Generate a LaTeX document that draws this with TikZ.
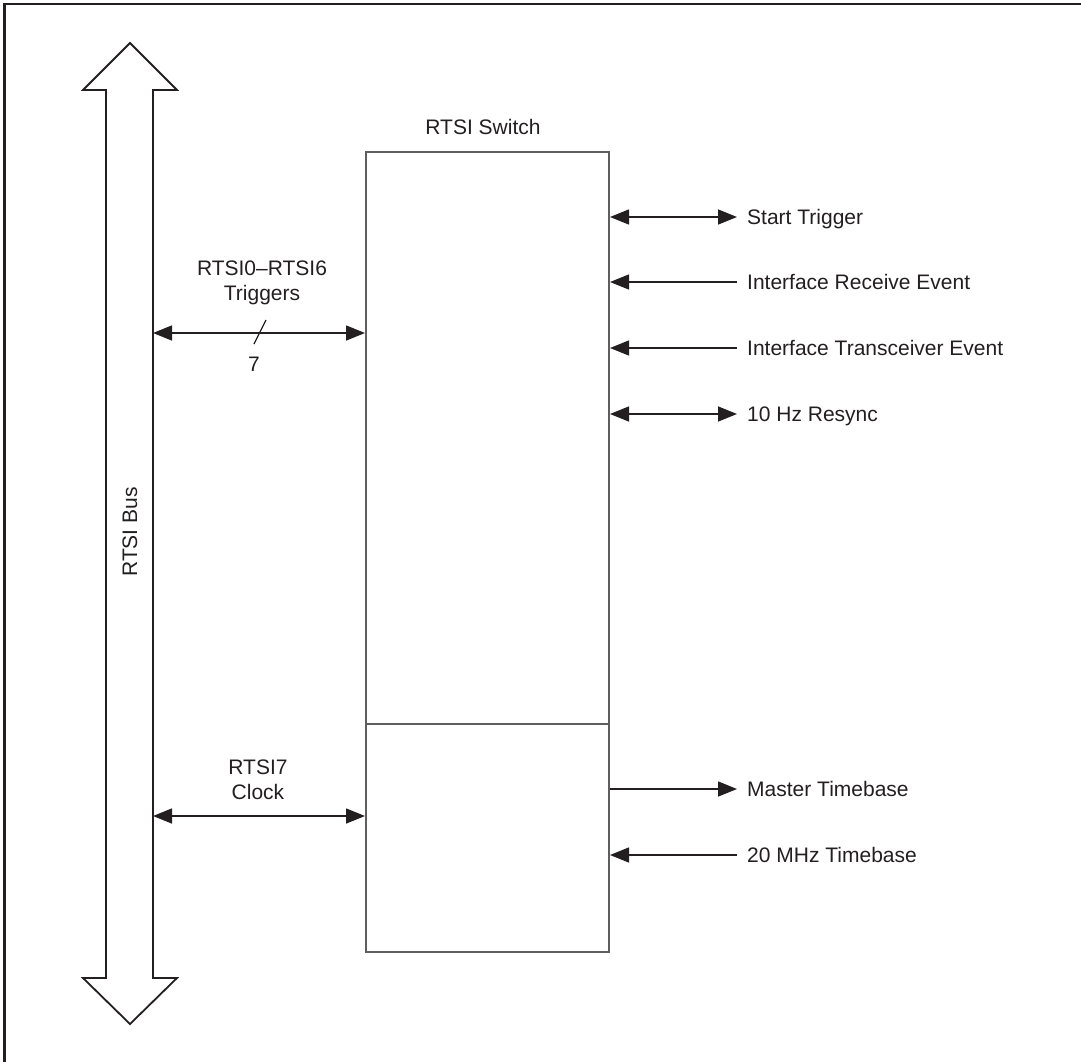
\documentclass[tikz,border=0pt]{standalone}
\usepackage{fontspec}
\setmainfont{Liberation Sans}
\usetikzlibrary{arrows.meta}
\definecolor{ink}{HTML}{231F20}
\definecolor{boxgray}{HTML}{5E5E5E}
\begin{document}
\begin{tikzpicture}[x=1pt,y=-1pt,
  every node/.style={font=\fontsize{21}{25}\selectfont, text=ink},
  sig/.style={draw=ink, line width=1.5pt},
  tip/.style={-{Triangle[length=19pt,width=15pt]}},
  bitip/.style={{Triangle[length=19pt,width=15pt]}-{Triangle[length=19pt,width=15pt]}},
  intip/.style={{Triangle[length=19pt,width=15pt]}-},
  rlabel/.style={anchor=west, inner xsep=10pt, inner ysep=0pt, text height=15pt, text depth=0pt},
  switchbox/.style={draw=boxgray, line width=2pt, minimum width=243pt, minimum height=800pt, inner sep=0pt},
  busshape/.style={draw=ink, line width=1.8pt, line join=miter, fill=white}
]
\useasboundingbox (0,0) rectangle (1081,1062);
\draw[ink, line width=2.5pt] (4.5,1062) -- (4.5,4) -- (1081,4);

% RTSI bus arrow
\draw[busshape] (130,43) -- (177,90) -- (153,90) -- (153,978) -- (177,978) -- (130,1024)
  -- (83,978) -- (106,978) -- (106,90) -- (83,90) -- cycle;
\node[rotate=90] (bus) at (130,532) {RTSI Bus};
\coordinate (busR1) at (153,333);
\coordinate (busR2) at (153,816);

% switch box
\node[switchbox] (sw) at (487.5,552) {};
\coordinate (divL) at (366,724);
\coordinate (divR) at (609,724);
\draw[boxgray, line width=2pt] (divL) -- (divR);
\node (swlabel) at (483,127) {RTSI Switch};

% left connectors
\node[align=center] (trig) at (262,282.5) {RTSI0–RTSI6\\Triggers};
\draw[sig, bitip] (busR1) -- (sw.west |- busR1);
\coordinate (slA) at (266,320);
\coordinate (slB) at (254,344);
\draw[sig, line width=1.2pt] (slA) -- (slB);
\node (seven) at (254,364) {7};

\node[align=center] (clk) at (258,780) {RTSI7\\Clock};
\draw[sig, bitip] (busR2) -- (sw.west |- busR2);

% right connectors
\node[rlabel] (st) at (737,217) {Start Trigger};
\node[rlabel] (ire) at (737,282) {Interface Receive Event};
\node[rlabel] (ite) at (737,348) {Interface Transceiver Event};
\node[rlabel] (hz) at (737,414) {10 Hz Resync};
\node[rlabel] (mt) at (737,789) {Master Timebase};
\node[rlabel] (mhz) at (737,855) {20 MHz Timebase};

\draw[sig, bitip] (sw.east |- st.west) -- (st.west);
\draw[sig, intip] (sw.east |- ire.west) -- (ire.west);
\draw[sig, intip] (sw.east |- ite.west) -- (ite.west);
\draw[sig, bitip] (sw.east |- hz.west) -- (hz.west);
\draw[sig, tip] (sw.east |- mt.west) -- (mt.west);
\draw[sig, intip] (sw.east |- mhz.west) -- (mhz.west);
\end{tikzpicture}
\end{document}
